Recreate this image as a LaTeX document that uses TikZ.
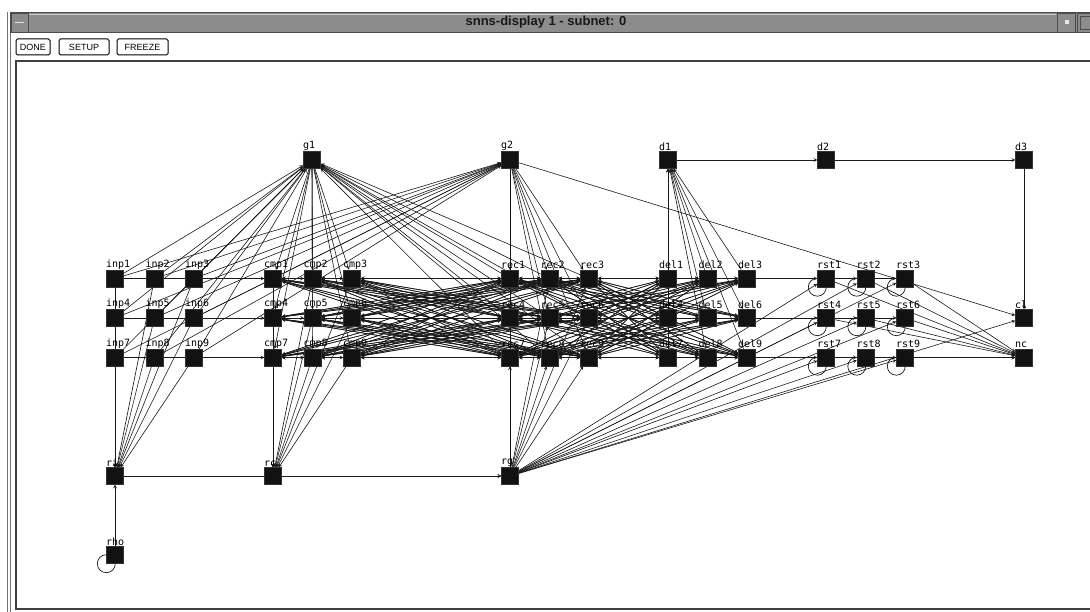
\documentclass[tikz,border=0pt]{standalone}
\usepackage{fontspec}
\setmainfont{Liberation Sans}
\newfontfamily\unitfont{DejaVu Sans Mono}
\usetikzlibrary{arrows,positioning,backgrounds}

\begin{document}
\begin{tikzpicture}[
  x=1pt, y=-1pt,
  unit/.style={rectangle, draw=black!80, fill=black!93, minimum size=17pt,
    inner sep=0pt, label={[lbl]north west:#1}},
  lbl/.style={anchor=south west, inner sep=0pt, xshift=-0.5pt, yshift=0.5pt,
    font=\unitfont\fontsize{10}{10}\selectfont},
  arrow/.style={->, >=stealth, draw=black!90, line width=0.6pt},
  selfloop/.style={draw=black!90, line width=0.7pt},
  btn/.style={draw, rounded corners=1.5pt, line width=1pt, minimum height=16pt,
    inner sep=1pt, font=\fontsize{9}{9}\selectfont},
  bar/.style={fill=black!45, draw=black!70, line width=0.8pt}]
  \useasboundingbox (0,0) rectangle (1090,612);

  % window frame and title bar
  \draw[black!55, line width=0.8pt] (7.5,12) -- (7.5,612);
  \draw[black!55, line width=0.8pt] (10.5,12) -- (10.5,612);
  \draw[bar] (10,12.5) rectangle (1095,32.5);
  \draw[black!20, line width=0.8pt] (29,14) -- (1056,14);
  \draw[bar] (11,13) rectangle (28,32);
  \draw[black!10, line width=1.2pt] (15,22.5) -- (24,22.5);
  \draw[bar] (1057,13) rectangle (1075,32);
  \fill[black!10] (1064.5,20.5) rectangle (1068.5,24.5);
  \draw[bar] (1077,13) rectangle (1095,32);
  \draw[black!70] (1080,16) rectangle (1095,29);
  \node[font=\bfseries\fontsize{13}{14}\selectfont, text=black!90] (title) at (546,22.5)
    {snns-display 1 - subnet: 0};

  % buttons
  \node[btn, minimum width=34pt] (done) at (33,47) {DONE};
  \node[btn, minimum width=50pt, right=8pt of done] (setup) {SETUP};
  \node[btn, minimum width=51pt, right=7pt of setup] (freeze) {FREEZE};

  % display area
  \draw[black!75, line width=1.2pt] (1095,61) -- (16,61) -- (16,609) -- (1095,609);

  % units
  \foreach \grp/\xo in {inp/115, cmp/273, rec/510, del/668, rst/826} {
    \foreach \i in {1,...,9} {
      \pgfmathtruncatemacro\ucol{mod(\i-1,3)}
      \pgfmathtruncatemacro\urow{div(\i-1,3)}
      \node[unit=\grp\i] (\grp\i) at (\xo+39.5*\ucol, 278.5+39.5*\urow) {};
    }
  }
  \node[unit=g1] (g1) at (312,160) {};
  \node[unit=g2] (g2) at (510,160) {};
  \node[unit=d1] (d1) at (668,160) {};
  \node[unit=d2] (d2) at (826,160) {};
  \node[unit=d3] (d3) at (1024,160) {};
  \node[unit=cl] (cl) at (1024,318) {};
  \node[unit=nc] (nc) at (1024,357.5) {};
  \node[unit=ri] (ri) at (115,476) {};
  \node[unit=rc] (rc) at (273,476) {};
  \node[unit=rg] (rg) at (510,476) {};
  \node[unit=rho] (rho) at (115,555) {};

  % links
  \begin{scope}[on background layer]
    \fill[white] (0,0) rectangle (1090,612);
    \foreach \i in {1,...,9} {
      \draw[arrow] (inp\i) -- (cmp\i);
      \draw[arrow] (inp\i) -- (g1);
      \draw[arrow] (inp\i) -- (g2);
      \draw[arrow] (inp\i) -- (ri);
      \draw[arrow] (g1) -- (cmp\i);
      \draw[arrow] (cmp\i) -- (rc);
      \draw[arrow] (rec\i) -- (g1);
      \draw[arrow] (g2) -- (rec\i);
      \draw[arrow] (rg) -- (rec\i);
      \draw[arrow] (del\i) -- (d1);
      \draw[arrow] (del\i) -- (rst\i);
      \draw[arrow] (rg) -- (rst\i);
      \draw[arrow] (rst\i) -- (nc);
      \draw[selfloop] (rst\i.south west) circle[radius=9];
      \foreach \j in {1,...,9} {
        \draw[arrow] (cmp\i) -- (rec\j);
        \draw[arrow] (rec\j) -- (cmp\i);
        \draw[arrow] (rec\i) -- (del\j);
        \draw[arrow] (del\j) -- (rec\i);
      }
    }
    \draw[arrow] (d1) -- (d2);
    \draw[arrow] (d2) -- (d3);
    \draw[arrow] (d3) -- (cl);
    \draw[arrow] (g2) -- (cl);
    \draw[arrow] (rg) -- (cl);
    \draw[arrow] (ri) -- (rg);
    \draw[arrow] (rc) -- (rg);
    \draw[arrow] (rho) -- (ri);
    \draw[selfloop] (rho.south west) circle[radius=9];
  \end{scope}
\end{tikzpicture}
\end{document}
